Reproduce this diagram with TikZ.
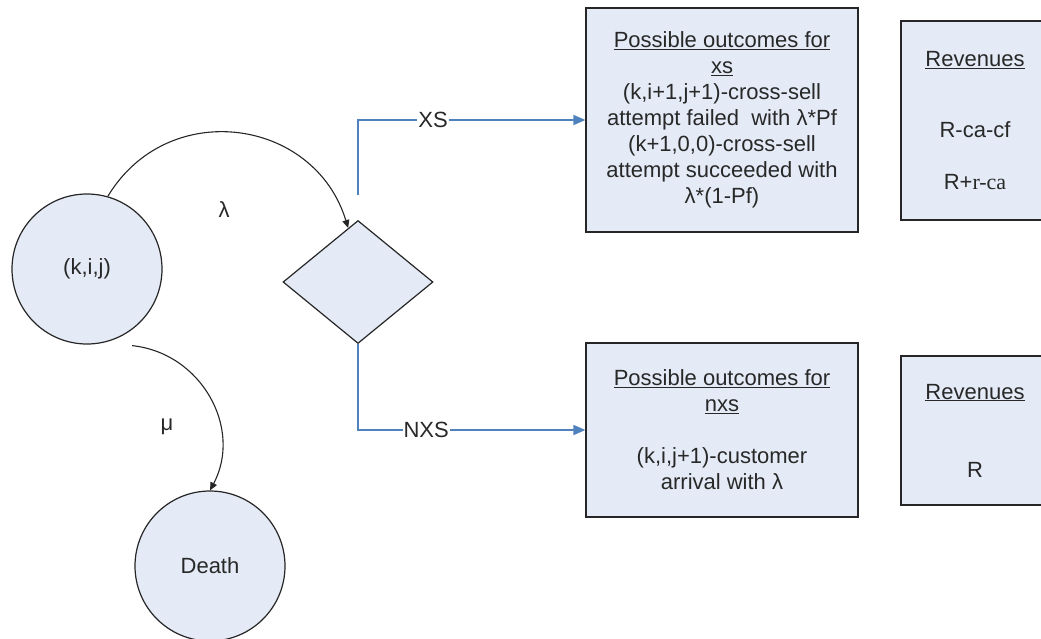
\documentclass[tikz,border=0pt]{standalone}
\usepackage{fontspec}
\setmainfont{Liberation Sans}
\newfontfamily\serifpart{Liberation Serif}
\usetikzlibrary{shapes.geometric,arrows.meta,calc,shadows}
\definecolor{shapefill}{RGB}{228,235,246}
\definecolor{flowblue}{RGB}{79,129,189}
\definecolor{ink}{RGB}{40,40,40}
\tikzset{
  base/.style={draw=black!85, line width=1.2pt, fill=shapefill, text=ink,
    font=\fontsize{22}{26}\selectfont},
  statenode/.style={base, circle, minimum size=150pt, inner sep=0pt},
  choice/.style={base, diamond, minimum width=150pt, minimum height=123pt, inner sep=0pt},
  panel/.style={base, rectangle, inner sep=0pt, align=center,
    drop shadow={shadow xshift=1.2pt, shadow yshift=-1.2pt, fill=black!45, opacity=1}},
  rate/.style={draw=black!85, line width=1.1pt, -{Triangle[length=8pt,width=7pt]}},
  flow/.style={draw=flowblue, line width=1.5pt, -{Triangle[length=12pt,width=10pt]}},
  edgelabel/.style={text=ink, font=\fontsize{22}{26}\selectfont, fill=white, inner sep=1pt},
  ratelabel/.style={text=ink, font=\fontsize{22}{26}\selectfont, inner sep=0pt},
}
\begin{document}
\begin{tikzpicture}[x=1pt,y=1pt]
\useasboundingbox (0,0) rectangle (1041,-638);

% states and the decision
\node[statenode] (kij) at (87,-269) {(k,i,j)};
\node[statenode] (death) at (210,-566) {Death};
\node[choice] (dec) at (358,-282) {};

% outcome panels
\node[panel, minimum width=272pt, minimum height=224pt] (xsout) at (722,-120)
  {\underline{Possible outcomes for}\\\underline{xs}\\(k,i+1,j+1)-cross-sell\\
   attempt failed\ \ with λ*Pf\\(k+1,0,0)-cross-sell\\attempt succeeded with\\λ*(1-Pf)};
\node[panel, minimum width=148pt, minimum height=199pt] (xsrev) at (975,-120.5)
  {\underline{Revenues}\\[45pt]R-ca-cf\\[26pt]R+{\serifpart r-ca}};
\node[panel, minimum width=272pt, minimum height=174pt] (nxsout) at (722,-430)
  {\underline{Possible outcomes for}\\\underline{nxs}\\[26pt](k,i,j+1)-customer\\arrival with λ};
\node[panel, minimum width=148pt, minimum height=149pt] (nxsrev) at (975,-430.5)
  {\underline{Revenues}\\[52pt]R};

% transition rates
\draw[rate] (kij.74) to[out=59, in=107, looseness=1.22]
  ($(dec.north)!0.13!(dec.west)$);
\node[ratelabel] (lam) at (224,-210) {λ};
\draw[rate] ($(kij.south)+(45,-1)$) to[out=-6, in=62, looseness=1.09] (death.north);
\node[ratelabel] (mu) at (167,-427) {μ};

% branches of the decision
\draw[flow] ([yshift=25pt]dec.north) |- node[edgelabel, pos=0.665] {XS} (xsout.west);
\draw[flow] (dec.south) |- node[edgelabel, pos=0.65] {NXS} (nxsout.west);
\end{tikzpicture}
\end{document}
